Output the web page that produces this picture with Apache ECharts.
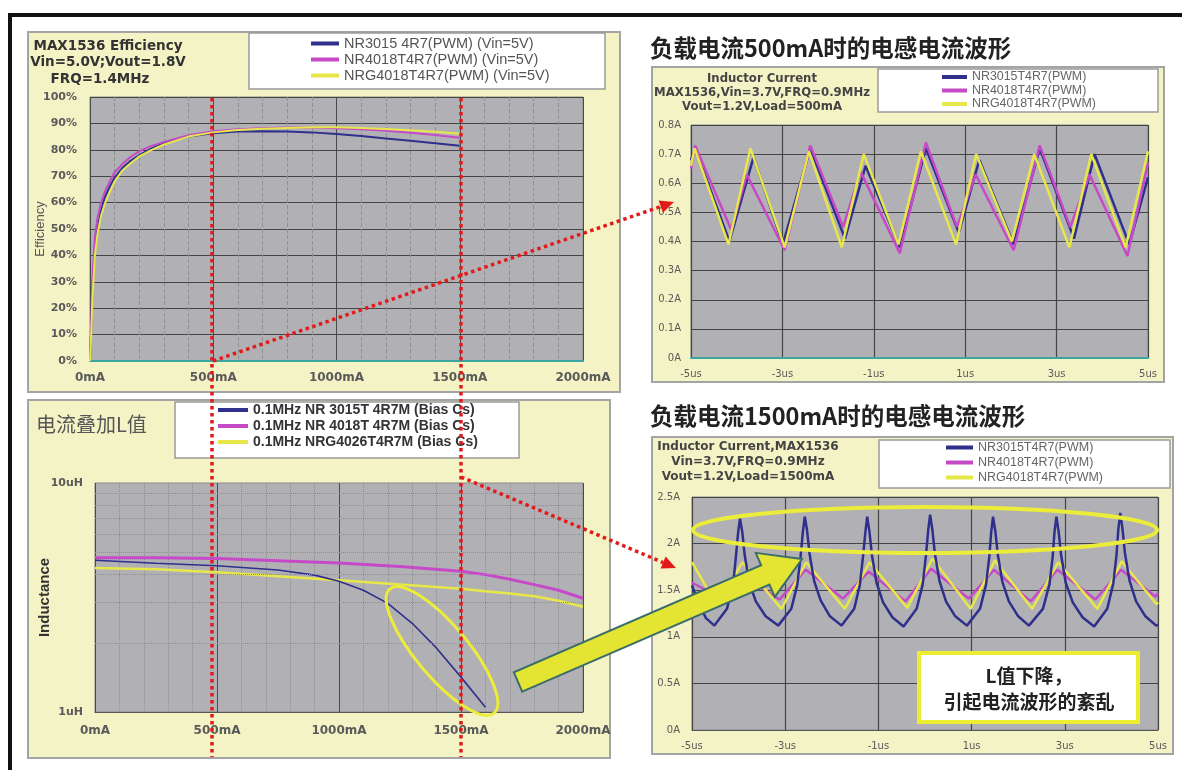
<!DOCTYPE html>
<html><head><meta charset="utf-8">
<script src="https://cdn.jsdelivr.net/npm/echarts@6/dist/echarts.min.js"></script>
<style>html,body{margin:0;padding:0;background:#fff}#c{width:1182px;height:770px}</style>
</head><body><div id="c"></div>
<script>
// ---------- Efficiency (top-left) ----------
const effLoad    = [0, 5, 10, 20, 30, 45, 60, 80, 100, 130, 160, 200, 250, 300, 400, 500, 600, 700, 800, 900, 1000, 1100, 1200, 1300, 1400, 1500];
const effNR3015  = [0, 12, 28, 42, 50, 57, 62, 66, 69.5, 73, 75.5, 78, 80.5, 82.5, 85, 86.3, 86.9, 87.0, 86.9, 86.6, 86.0, 85.2, 84.3, 83.4, 82.5, 81.5];
const effNR4018  = [0, 15, 32, 47, 54, 60, 64, 68, 71.5, 74.5, 77, 79.5, 81.5, 83, 85.5, 87, 87.8, 88.2, 88.4, 88.4, 88.2, 87.8, 87.2, 86.5, 85.6, 84.6];
const effNRG4018 = [0, 10, 24, 40, 48, 55, 59.5, 64, 68, 72, 74.5, 77.5, 80, 82, 85, 86.6, 87.5, 88.0, 88.3, 88.5, 88.5, 88.3, 87.9, 87.4, 86.8, 86.1];
const effNames   = ['NR3015 4R7(PWM) (Vin=5V)', 'NR4018T4R7(PWM) (Vin=5V)', 'NRG4018T4R7(PWM) (Vin=5V)'];

// ---------- Inductance vs DC bias (bottom-left) ----------
const indLoadNR3015 = [0, 250, 500, 750, 900, 1000, 1100, 1200, 1300, 1400, 1500, 1600];
const indNR3015     = [4.6, 4.46, 4.35, 4.17, 3.96, 3.72, 3.40, 2.98, 2.44, 1.90, 1.42, 1.05];
const indLoad       = [0, 250, 500, 750, 1000, 1250, 1500, 1600, 1700, 1800, 1900, 2000];
const indNR4018     = [4.72, 4.72, 4.68, 4.58, 4.47, 4.32, 4.12, 3.98, 3.80, 3.60, 3.40, 3.14];
const indNRG4026    = [4.25, 4.2, 4.08, 3.92, 3.76, 3.6, 3.45, 3.37, 3.29, 3.20, 3.06, 2.88];
const indMinorTicks = [2, 3, 4, 5, 6, 7, 8, 9];
const indNames      = ['0.1MHz NR 3015T 4R7M (Bias Cs)', '0.1MHz NR 4018T 4R7M (Bias Cs)', '0.1MHz NRG4026T4R7M (Bias Cs)'];

// ---------- Inductor current @500mA (top-right), time in us ----------
const w500TimeNR3015  = [-5, -4.91, -4.16, -3.63, -2.99, -2.39, -1.63, -1.18, -0.43, 0.14, 0.86, 1.31, 2.06, 2.63, 3.38, 3.83, 4.59, 5.0];
const w500NR3015      = [0.68, 0.72, 0.40, 0.69, 0.39, 0.72, 0.41, 0.66, 0.38, 0.72, 0.43, 0.68, 0.39, 0.72, 0.41, 0.70, 0.39, 0.62];
const w500TimeNR4018  = [-5, -4.91, -4.12, -3.78, -2.95, -2.39, -1.67, -1.29, -0.43, 0.14, 0.82, 1.23, 2.06, 2.63, 3.30, 3.72, 4.55, 5.0];
const w500NR4018      = [0.65, 0.73, 0.44, 0.63, 0.37, 0.73, 0.45, 0.64, 0.36, 0.74, 0.45, 0.63, 0.37, 0.73, 0.45, 0.63, 0.35, 0.67];
const w500TimeNRG4018 = [-5, -4.92, -4.18, -3.70, -2.95, -2.42, -1.70, -1.22, -0.46, 0.03, 0.80, 1.24, 2.02, 2.51, 3.28, 3.76, 4.51, 5.0];
const w500NRG4018     = [0.66, 0.72, 0.39, 0.72, 0.38, 0.71, 0.38, 0.70, 0.39, 0.71, 0.39, 0.70, 0.40, 0.70, 0.38, 0.70, 0.38, 0.71];

// ---------- Inductor current @1500mA (bottom-right), time in us ----------
const w1500TimeNR3015 = [-5, -4.85, -4.7, -4.52,
  -4.25, -4.12, -4.06, -4.01, -3.97, -3.92, -3.87, -3.77, -3.63, -3.42, -3.15,
  -2.87, -2.74, -2.67, -2.62, -2.58, -2.53, -2.48, -2.38, -2.24, -2.04, -1.79,
  -1.52, -1.40, -1.33, -1.28, -1.24, -1.19, -1.14, -1.04, -0.90, -0.70, -0.46,
  -0.18, -0.05, 0.02, 0.07, 0.11, 0.16, 0.21, 0.31, 0.45, 0.65, 0.90,
  1.18, 1.31, 1.38, 1.42, 1.46, 1.51, 1.56, 1.66, 1.80, 2.00, 2.23,
  2.53, 2.67, 2.74, 2.78, 2.82, 2.87, 2.92, 3.02, 3.17, 3.38, 3.63,
  3.91, 4.04, 4.11, 4.15, 4.19, 4.24, 4.29, 4.39, 4.53, 4.73, 4.96, 5.0];
const w1500NR3015 = [1.55, 1.35, 1.2, 1.12,
  1.30, 1.55, 1.85, 2.12, 2.27, 2.12, 1.88, 1.58, 1.38, 1.22, 1.12,
  1.30, 1.56, 1.86, 2.13, 2.29, 2.14, 1.90, 1.60, 1.39, 1.22, 1.12,
  1.30, 1.55, 1.86, 2.12, 2.29, 2.12, 1.88, 1.58, 1.37, 1.21, 1.11,
  1.30, 1.56, 1.87, 2.15, 2.31, 2.14, 1.90, 1.60, 1.38, 1.22, 1.12,
  1.30, 1.56, 1.86, 2.12, 2.29, 2.13, 1.89, 1.59, 1.38, 1.22, 1.12,
  1.30, 1.56, 1.86, 2.13, 2.29, 2.12, 1.88, 1.58, 1.37, 1.21, 1.11,
  1.30, 1.57, 1.88, 2.16, 2.33, 2.15, 1.90, 1.60, 1.38, 1.22, 1.12, 1.13];
const w1500TimeNR4018 = [-5, -4.5, -3.93, -3.12, -2.56, -1.76, -1.21, -0.42, 0.13, 0.94, 1.48, 2.27, 2.84, 3.66, 4.21, 4.95, 5.0];
const w1500NR4018     = [1.58, 1.45, 1.66, 1.40, 1.72, 1.41, 1.70, 1.38, 1.73, 1.41, 1.72, 1.38, 1.72, 1.40, 1.72, 1.43, 1.47];
const w1500TimeNRG4018 = [-5, -4.45, -3.92, -3.08, -2.55, -1.72, -1.19, -0.38, 0.16, 0.98, 1.50, 2.30, 2.86, 3.70, 4.22, 4.97, 5.0];
const w1500NRG4018     = [1.80, 1.32, 1.80, 1.30, 1.80, 1.30, 1.80, 1.31, 1.84, 1.30, 1.82, 1.30, 1.80, 1.30, 1.81, 1.35, 1.37];

const waveNames = ['NR3015T4R7(PWM)', 'NR4018T4R7(PWM)', 'NRG4018T4R7(PWM)'];
const timeOffset = 5; // axis runs 0..10, labels show -5us..5us

const NAVY = '#2f2f8c', MAG = '#c64ac8', YEL = '#e7e74a';
const LBL = '#5a5a5a';

function pairs(xs, ys, off) { off = off || 0; return xs.map((x, i) => [x + off, ys[i]]); }
function line(name, xi, data, color, width, extra) {
  return Object.assign({ type: 'line', name, xAxisIndex: xi, yAxisIndex: xi, data, showSymbol: false, symbol: 'none',
    lineStyle: { color, width }, itemStyle: { color }, animation: false, z: 3 }, extra || {});
}

const labelStyle = (size, bold) => ({ color: LBL, fontSize: size, fontWeight: bold ? 'bold' : 'normal', fontFamily: 'DejaVu Sans' });

const xAxes = [
  { gridIndex: 0, type: 'value', min: 0, max: 2000, interval: 500,
    axisLine: { show: true, onZero: false, lineStyle: { color: '#3aa6a2', width: 2 } }, axisTick: { show: false },
    axisLabel: Object.assign({ formatter: v => v + 'mA', margin: 11 }, labelStyle(12, true)),
    splitLine: { show: true, lineStyle: { color: '#4a4a4a', width: 1 } },
    minorTick: { show: false, splitNumber: 5 },
    minorSplitLine: { show: true, lineStyle: { color: '#909090', type: 'dashed', width: 1 } } },
  { gridIndex: 1, type: 'value', min: 0, max: 10, interval: 2,
    axisLine: { show: true, onZero: false, lineStyle: { color: '#3aa6a2', width: 2 } }, axisTick: { show: false },
    axisLabel: Object.assign({ formatter: v => (v - timeOffset) + 'us', margin: 11 }, labelStyle(10, false)),
    splitLine: { show: true, lineStyle: { color: '#454545', width: 1.2 } } },
  { gridIndex: 2, type: 'value', min: 0, max: 2000, interval: 500,
    axisLine: { show: true, onZero: false, lineStyle: { color: '#555', width: 1 } }, axisTick: { show: false },
    axisLabel: Object.assign({ formatter: v => v + 'mA', margin: 13 }, labelStyle(12, true)),
    splitLine: { show: true, lineStyle: { color: '#4a4a4a', width: 1 } },
    minorTick: { show: false, splitNumber: 5 },
    minorSplitLine: { show: true, lineStyle: { color: '#8e8e8e', type: 'dotted', width: 1 } } },
  { gridIndex: 3, type: 'value', min: 0, max: 10, interval: 2,
    axisLine: { show: true, onZero: false, lineStyle: { color: '#555', width: 1 } }, axisTick: { show: false },
    axisLabel: Object.assign({ formatter: v => (v - timeOffset) + 'us', margin: 11 }, labelStyle(10, false)),
    splitLine: { show: true, lineStyle: { color: '#454545', width: 1.2 } } }
];

const yAxes = [
  { gridIndex: 0, type: 'value', min: 0, max: 100, interval: 10,
    axisLine: { show: false }, axisTick: { show: false },
    axisLabel: Object.assign({ formatter: v => v + '%', margin: 13 }, labelStyle(11, true)),
    splitLine: { lineStyle: { color: '#454545', width: 1 } },
    name: 'Efficiency', nameLocation: 'middle', nameGap: 43, nameMoveOverlap: false,
    nameTextStyle: { color: '#555', fontSize: 13, fontFamily: 'Liberation Sans' } },
  { gridIndex: 1, type: 'value', min: 0, max: 0.8, interval: 0.1,
    axisLine: { show: false }, axisTick: { show: false },
    axisLabel: Object.assign({ formatter: v => (v === 0 ? '0' : v.toFixed(1)) + 'A', margin: 10 }, labelStyle(10, false)),
    splitLine: { lineStyle: { color: '#454545', width: 1.2 } } },
  { gridIndex: 2, type: 'log', logBase: 10, min: 1, max: 10,
    axisLine: { show: false }, axisTick: { show: false },
    axisLabel: Object.assign({ formatter: v => v + 'uH', margin: 12 }, labelStyle(11, true)),
    splitLine: { show: false },
    name: 'Inductance', nameLocation: 'middle', nameGap: 43, nameMoveOverlap: false,
    nameTextStyle: { color: '#333', fontSize: 15, fontWeight: 'bold', fontFamily: 'Liberation Sans' } },
  { gridIndex: 3, type: 'value', min: 0, max: 2.5, interval: 0.5,
    axisLine: { show: false }, axisTick: { show: false },
    axisLabel: Object.assign({ formatter: v => v + 'A', margin: 12 }, labelStyle(10, false)),
    splitLine: { lineStyle: { color: '#454545', width: 1.2 } } }
];

const gridStyle = { show: true, backgroundColor: '#b1b1b5', borderColor: '#8a8a8a', borderWidth: 1 };
const grids = [
  Object.assign({ left: 90, top: 97, width: 493, height: 264 }, gridStyle),
  Object.assign({ left: 691, top: 125, width: 457, height: 233 }, gridStyle),
  Object.assign({ left: 95, top: 483, width: 488, height: 229 }, gridStyle),
  Object.assign({ left: 692, top: 497, width: 466, height: 233 }, gridStyle)
];

const series = [
  line(effNames[0], 0, pairs(effLoad, effNR3015), NAVY, 2),
  line(effNames[1], 0, pairs(effLoad, effNR4018), MAG, 2),
  line(effNames[2], 0, pairs(effLoad, effNRG4018), YEL, 2),

  line(waveNames[0], 1, pairs(w500TimeNR3015, w500NR3015, timeOffset), NAVY, 2.5),
  line(waveNames[1], 1, pairs(w500TimeNR4018, w500NR4018, timeOffset), MAG, 2.5),
  line(waveNames[2], 1, pairs(w500TimeNRG4018, w500NRG4018, timeOffset), YEL, 2.5),

  line(indNames[1], 2, pairs(indLoad, indNR4018), MAG, 3, {
    markLine: { silent: true, symbol: 'none', label: { show: false }, animation: false,
      lineStyle: { color: '#8e8e8e', type: 'dotted', width: 1 },
      data: indMinorTicks.map(v => ({ yAxis: v })) } }),
  line(indNames[2], 2, pairs(indLoad, indNRG4026), YEL, 2.5),
  line(indNames[0], 2, pairs(indLoadNR3015, indNR3015), NAVY, 1.6),

  line(waveNames[1], 3, pairs(w1500TimeNR4018, w1500NR4018, timeOffset), MAG, 2.5),
  line(waveNames[2], 3, pairs(w1500TimeNRG4018, w1500NRG4018, timeOffset), YEL, 2.5),
  line(waveNames[0], 3, pairs(w1500TimeNR3015, w1500NR3015, timeOffset), NAVY, 2.5)
];

const legendBase = { orient: 'vertical', icon: 'rect', padding: 0, selectedMode: false, z: 6 };
const legends = [
  Object.assign({ data: effNames, left: 311, top: 36, itemWidth: 28, itemHeight: 4, itemGap: 1,
    textStyle: { fontFamily: 'Liberation Sans', fontSize: 14.5, color: '#555', lineHeight: 12 } }, legendBase),
  Object.assign({ data: waveNames, left: 942, top: 71, itemWidth: 25, itemHeight: 4, itemGap: 1.5,
    textStyle: { fontFamily: 'Liberation Sans', fontSize: 12.4, color: '#666', lineHeight: 11 } }, legendBase),
  Object.assign({ data: indNames, left: 218, top: 403, itemWidth: 30, itemHeight: 4, itemGap: 2,
    textStyle: { fontFamily: 'Liberation Sans', fontSize: 14, fontWeight: 'bold', color: '#333', lineHeight: 12 } }, legendBase),
  Object.assign({ data: waveNames, left: 946, top: 441, itemWidth: 27, itemHeight: 4, itemGap: 2,
    textStyle: { fontFamily: 'Liberation Sans', fontSize: 12.5, color: '#666', lineHeight: 12 } }, legendBase)
];

// ---------- annotations ----------
const G = [];
// outer frame
G.push({ type: 'line', shape: { x1: 8, y1: 15, x2: 1182, y2: 15 }, style: { stroke: '#111', lineWidth: 4 }, z: -20 });
G.push({ type: 'line', shape: { x1: 10, y1: 13, x2: 10, y2: 770 }, style: { stroke: '#111', lineWidth: 4 }, z: -20 });
// panels
[[28, 32, 592, 360], [28, 400, 582, 358], [652, 67, 512, 315], [652, 437, 521, 317]].forEach(r =>
  G.push({ type: 'rect', shape: { x: r[0], y: r[1], width: r[2], height: r[3] },
    style: { fill: '#f3f3c6', stroke: '#a4a4a4', lineWidth: 2 }, z: -10 }));
// legend boxes
[[249, 33, 356, 56], [878, 69, 280, 43], [175, 402, 344, 56], [879, 440, 291, 48]].forEach(r =>
  G.push({ type: 'rect', shape: { x: r[0], y: r[1], width: r[2], height: r[3] },
    style: { fill: '#ffffff', stroke: '#9a9a9a', lineWidth: 1.5 }, z: -5 }));

function txt(x, y, s, font, fill, align) {
  G.push({ type: 'text', x, y, z: 60,
    style: { text: s, font, fill, textAlign: align || 'left', align: align || 'left', textVerticalAlign: 'middle', verticalAlign: 'middle' } });
}
// panel texts
txt(108, 46, 'MAX1536 Efficiency', 'bold 13.5px "DejaVu Sans"', '#333', 'center');
txt(108, 62, 'Vin=5.0V;Vout=1.8V', 'bold 13.5px "DejaVu Sans"', '#333', 'center');
txt(100, 79, 'FRQ=1.4MHz', 'bold 13.5px "DejaVu Sans"', '#333', 'center');
txt(762, 79, 'Inductor Current', 'bold 11.7px "DejaVu Sans"', '#444', 'center');
txt(762, 93, 'MAX1536,Vin=3.7V,FRQ=0.9MHz', 'bold 11.7px "DejaVu Sans"', '#444', 'center');
txt(762, 107, 'Vout=1.2V,Load=500mA', 'bold 11.7px "DejaVu Sans"', '#444', 'center');
txt(748, 447, 'Inductor Current,MAX1536', 'bold 12px "DejaVu Sans"', '#444', 'center');
txt(748, 462, 'Vin=3.7V,FRQ=0.9MHz', 'bold 12px "DejaVu Sans"', '#444', 'center');
txt(748, 477, 'Vout=1.2V,Load=1500mA', 'bold 12px "DejaVu Sans"', '#444', 'center');
txt(650, 48, '负载电流500mA时的电感电流波形', 'bold 23.5px "Noto Sans CJK SC"', '#222');
txt(650, 416, '负载电流1500mA时的电感电流波形', 'bold 23.5px "Noto Sans CJK SC"', '#222');
txt(36, 424, '电流叠加L值', '20px "Noto Sans CJK SC"', '#555');

// yellow ellipses
G.push({ type: 'ellipse', x: 442, y: 651, rotation: -50 * Math.PI / 180, shape: { cx: 0, cy: 0, rx: 81, ry: 26 },
  style: { fill: 'none', stroke: '#ecec3a', lineWidth: 3 }, z: 50 });
G.push({ type: 'ellipse', shape: { cx: 925, cy: 530, rx: 232, ry: 23 },
  style: { fill: 'none', stroke: '#ecec3a', lineWidth: 4 }, z: 50 });

// big yellow arrow
(function () {
  const tail = [518, 682], tip = [802, 559];
  const dx = tip[0] - tail[0], dy = tip[1] - tail[1], L = Math.hypot(dx, dy);
  const ux = dx / L, uy = dy / L, px = -uy, py = ux;
  const hw = 10.5, HW = 24, HL = 40;
  const bx = tip[0] - HL * ux, by = tip[1] - HL * uy;
  const pts = [
    [tail[0] + hw * px, tail[1] + hw * py], [bx + hw * px, by + hw * py], [bx + HW * px, by + HW * py],
    tip, [bx - HW * px, by - HW * py], [bx - hw * px, by - hw * py], [tail[0] - hw * px, tail[1] - hw * py]];
  G.push({ type: 'polygon', shape: { points: pts }, style: { fill: '#e4e432', stroke: '#3b6e6a', lineWidth: 2 }, z: 55 });
})();

// red dotted guides
const RED = '#e31a1a';
function dotted(x1, y1, x2, y2) {
  G.push({ type: 'line', shape: { x1, y1, x2, y2 }, style: { stroke: RED, lineWidth: 3.5, lineDash: [3.5, 3.5] }, z: 70 });
}
function redArrow(x1, y1, x2, y2) {
  const dx = x2 - x1, dy = y2 - y1, L = Math.hypot(dx, dy), ux = dx / L, uy = dy / L;
  const HL = 14, HW = 6.5;
  const bx = x2 - HL * ux, by = y2 - HL * uy;
  dotted(x1, y1, bx, by);
  G.push({ type: 'polygon', shape: { points: [[x2, y2], [bx - HW * uy, by + HW * ux], [bx + HW * uy, by - HW * ux]] },
    style: { fill: RED }, z: 70 });
}
dotted(212, 98, 212, 757);
dotted(461, 98, 461, 757);
redArrow(213, 361, 674, 202);
redArrow(461, 477, 676, 568);

// callout box
G.push({ type: 'rect', shape: { x: 919, y: 653, width: 219, height: 69 }, style: { fill: '#ffffff', stroke: '#ecec30', lineWidth: 4 }, z: 58 });
txt(1029, 676, 'L值下降，', 'bold 19px "Noto Sans CJK SC"', '#222', 'center');
txt(1029, 702, '引起电流波形的紊乱', 'bold 19px "Noto Sans CJK SC"', '#222', 'center');

const chart = echarts.init(document.getElementById('c'), null, { renderer: 'canvas' });
chart.setOption({
  animation: false,
  backgroundColor: '#ffffff',
  grid: grids, xAxis: xAxes, yAxis: yAxes, legend: legends, series,
  graphic: { elements: G }
});
</script></body></html>
